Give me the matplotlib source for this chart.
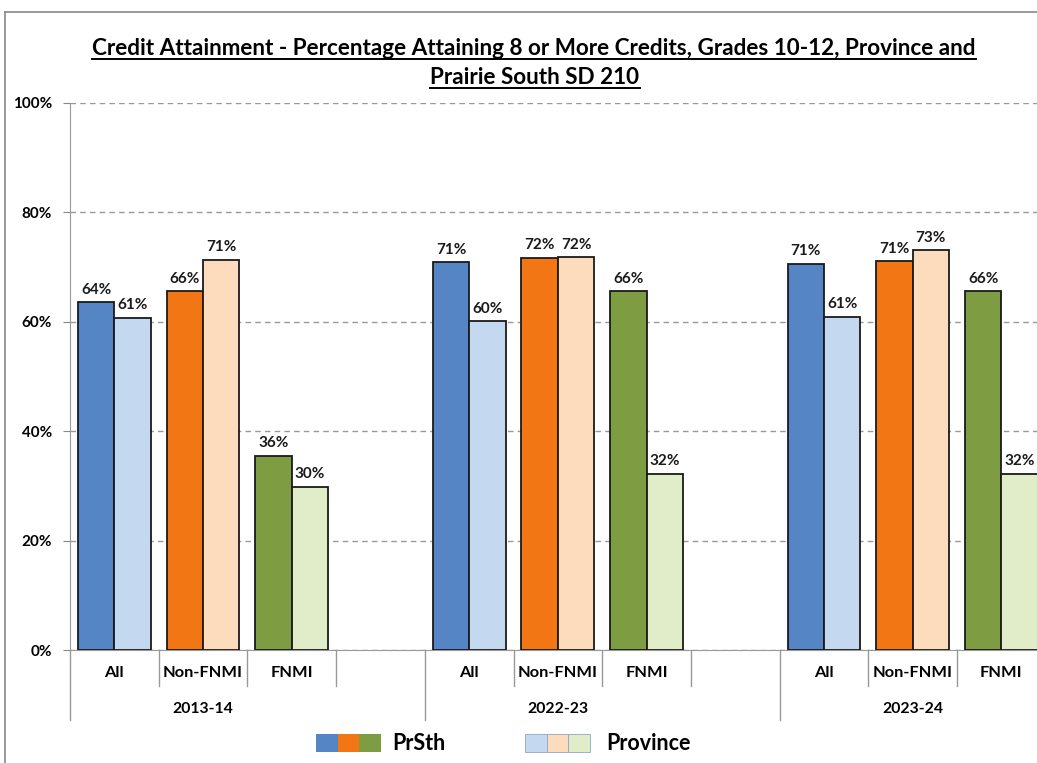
import matplotlib
matplotlib.use('Agg')
import matplotlib.pyplot as plt
from matplotlib.patches import Rectangle
from matplotlib.lines import Line2D

# ==== DATA ====
years = ['2013-14', '2022-23', '2023-24']
groups = ['All', 'Non-FNMI', 'FNMI']

prsth = [[63.6, 65.6, 35.5],
         [70.9, 71.7, 65.6],
         [70.6, 71.1, 65.6]]
province = [[60.7, 71.3, 29.8],
            [60.1, 71.8, 32.2],
            [60.9, 73.1, 32.2]]

prsth_colors = ['#5585C5', '#F27613', '#7E9C42']
prov_colors = ['#C4D8EF', '#FDDCBE', '#E0EDC8']

title1 = 'Credit Attainment - Percentage Attaining 8 or More Credits, Grades 10-12, Province and'
title2 = 'Prairie South SD 210'

# ==== PLOT ====
plt.rcParams['font.family'] = ['Lato', 'DejaVu Sans']
plt.rcParams['font.weight'] = 'bold'

W, H = 1037, 763
fig = plt.figure(figsize=(W / 100, H / 100), dpi=100)

# plot area in pixels: y-axis at x=70, 0% at y=650, 100% at y=103, 12 slots of ~88.7 px
x0, slot = 70, 88.7
ax = fig.add_axes([x0 / W, (H - 650) / H, 12 * slot / W, (650 - 103) / H])
ax.set_xlim(0, 12)
ax.set_ylim(0, 100)

bw = 0.41
for yi, yr in enumerate(years):
    for gi, g in enumerate(groups):
        c = yi * 4 + gi + 0.5
        for val, col, off in [(prsth[yi][gi], prsth_colors[gi], -bw / 2),
                              (province[yi][gi], prov_colors[gi], bw / 2)]:
            ax.bar(c + off, val, width=bw, color=col, edgecolor='#1a1a1a',
                   linewidth=1.3, zorder=3)
            ax.annotate(f'{val:.0f}%', (c + off, val), xytext=(0, 4),
                        textcoords='offset points', ha='center', va='bottom',
                        fontsize=11, fontweight='bold', color='#1a1a1a')

ax.set_yticks(range(0, 101, 20))
ax.set_yticklabels([f'{v}%' for v in range(0, 101, 20)], fontsize=11,
                   fontweight='bold')
ax.tick_params(axis='y', direction='out', length=5, color='#888888', pad=8)
ax.yaxis.grid(True, linestyle=(0, (4, 3)), color='#999999', linewidth=1)
ax.set_axisbelow(True)
ax.set_xticks([])
for s in ['top', 'right']:
    ax.spines[s].set_visible(False)
ax.spines['left'].set_color('#999999')
ax.spines['bottom'].set_color('#999999')

# multi-level category axis
trans = ax.get_xaxis_transform()
ph = 650 - 103
for i in range(13):
    depth = 70 if i % 4 == 0 else 36
    ax.plot([i, i], [0, -depth / ph], transform=trans, color='#999999',
            linewidth=1, clip_on=False)
for yi, yr in enumerate(years):
    for gi, g in enumerate(groups):
        ax.text(yi * 4 + gi + 0.5, -23 / ph, g, transform=trans, ha='center',
                va='center', fontsize=11.8, fontweight='bold')
    ax.text(yi * 4 + 1.5, -59 / ph, yr, transform=trans, ha='center',
            va='center', fontsize=11.3, fontweight='bold')

# title with underline
t1 = fig.text(534 / W, 1 - 55 / H, title1, ha='center', va='baseline',
              fontsize=16.2, fontweight='bold')
t2 = fig.text(535 / W, 1 - 84 / H, title2, ha='center', va='baseline',
              fontsize=16.2, fontweight='bold')
fig.canvas.draw()
r = fig.canvas.get_renderer()
for t, yb in [(t1, 55), (t2, 84)]:
    bb = t.get_window_extent(r)
    fig.add_artist(Line2D([bb.x0 / W, bb.x1 / W], [1 - (yb + 4) / H] * 2,
                          color='black', linewidth=1.4))

# legend
for k, col in enumerate(prsth_colors):
    fig.add_artist(Rectangle(((316 + k * 21.7) / W, 1 - 752 / H), 21.7 / W,
                             18 / H, facecolor=col, edgecolor='none'))
for k, col in enumerate(prov_colors):
    fig.add_artist(Rectangle(((525 + k * 21.7) / W, 1 - 752 / H), 21.7 / W,
                             18 / H, facecolor=col, edgecolor='#8EA6C6',
                             linewidth=0.6))
fig.text(392 / W, 1 - 743 / H, 'PrSth', ha='left', va='center', fontsize=15.5,
         fontweight='bold')
fig.text(606 / W, 1 - 743 / H, 'Province', ha='left', va='center',
         fontsize=15.5, fontweight='bold')

# outer chart border
fig.add_artist(Line2D([5 / W, 5 / W], [0, 1 - 12 / H], color='#888888',
                      linewidth=1.2))
fig.add_artist(Line2D([5 / W, 1], [1 - 12 / H] * 2, color='#888888',
                      linewidth=1.2))

fig.savefig('out.png', dpi=100)
